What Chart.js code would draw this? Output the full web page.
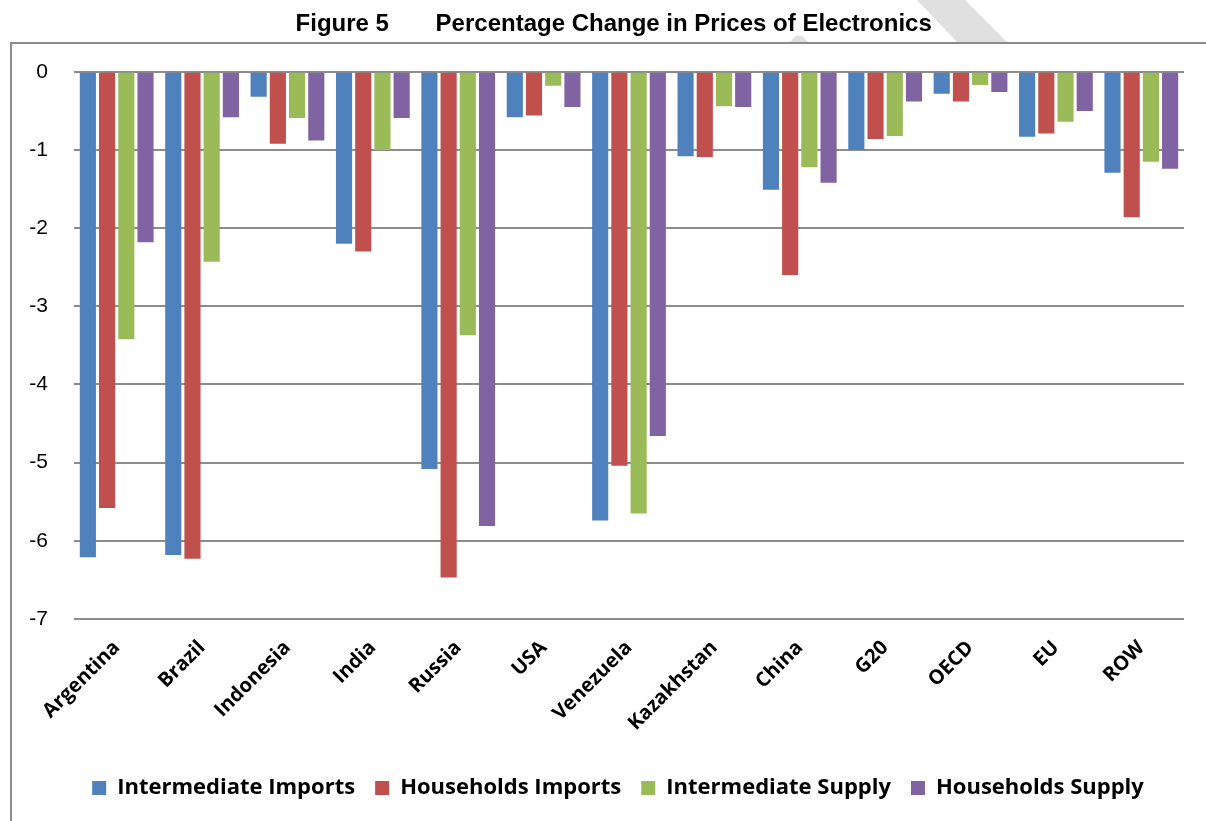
<!DOCTYPE html>
<html>
<head>
<meta charset="utf-8">
<script src="https://cdn.jsdelivr.net/npm/chart.js@4"></script>
<style>
  html, body { margin: 0; padding: 0; background: #fff; }
  #wrap { width: 1206px; height: 821px; position: relative; }
</style>
</head>
<body>
<div id="wrap"><canvas id="myChart" width="1206" height="821"></canvas></div>
<script>
var countries = ["Argentina", "Brazil", "Indonesia", "India", "Russia", "USA", "Venezuela",
                 "Kazakhstan", "China", "G20", "OECD", "EU", "ROW"];
var intermediateImports = [-6.21, -6.18, -0.32, -2.20, -5.08, -0.58, -5.74, -1.08, -1.51, -1.00, -0.28, -0.83, -1.29];
var householdsImports   = [-5.58, -6.23, -0.92, -2.30, -6.47, -0.56, -5.04, -1.09, -2.60, -0.86, -0.38, -0.79, -1.86];
var intermediateSupply  = [-3.42, -2.43, -0.59, -1.00, -3.37, -0.18, -5.65, -0.44, -1.22, -0.82, -0.17, -0.64, -1.15];
var householdsSupply    = [-2.18, -0.58, -0.88, -0.59, -5.81, -0.45, -4.66, -0.45, -1.42, -0.38, -0.26, -0.50, -1.24];
var seriesNames = ["Intermediate Imports", "Households Imports", "Intermediate Supply", "Households Supply"];
var barColors = ["#4F81BD", "#C0504D", "#9BBB59", "#8064A2"];

// frame and faint watermark stripe behind the chart
var frame = {
  id: "frame",
  afterLayout: function(chart) {
    // nudge legend a bit left, like the original
    chart.legend.left -= 11;
    chart.legend.right -= 11;
  },
  beforeDraw: function(chart) {
    var c = chart.ctx;
    c.save();
    c.fillStyle = "#e0e0e0";
    c.beginPath();
    c.moveTo(917, 0); c.lineTo(965, 0); c.lineTo(1007, 42); c.lineTo(957, 42);
    c.closePath(); c.fill();
    c.beginPath();
    c.moveTo(796, 36); c.lineTo(802, 36); c.lineTo(808, 42); c.lineTo(790, 42);
    c.closePath(); c.fill();
    c.strokeStyle = "#8c8c8c";
    c.lineWidth = 2;
    c.beginPath();
    c.moveTo(1206, 43); c.lineTo(11, 43); c.lineTo(11, 821);
    c.stroke();
    c.restore();
  }
};

var datasets = [intermediateImports, householdsImports, intermediateSupply, householdsSupply].map(function(d, i) {
  return {
    label: seriesNames[i],
    data: d,
    backgroundColor: barColors[i],
    categoryPercentage: 0.9,
    barPercentage: 0.84
  };
});

new Chart("myChart", {
  type: "bar",
  data: { labels: countries, datasets: datasets },
  plugins: [frame],
  options: {
    responsive: false,
    animation: false,
    layout: { padding: { left: 10, right: 22, top: 0, bottom: 12 } },
    plugins: {
      title: {
        display: true,
        text: "     Figure 5       Percentage Change in Prices of Electronics",
        color: "#000",
        font: { family: "Liberation Sans, Arial", size: 24, weight: "bold" },
        padding: { top: 10, bottom: 33 }
      },
      legend: {
        position: "bottom",
        fullSize: false,
        labels: {
          color: "#000",
          font: { family: "Open Sans", size: 22, weight: "bold" },
          boxWidth: 14,
          boxHeight: 14,
          padding: 20
        }
      },
      tooltip: { enabled: false }
    },
    scales: {
      x: {
        grid: { display: false },
        border: { display: false },
        ticks: {
          color: "#000",
          font: { family: "Open Sans", size: 20, weight: "bold" },
          maxRotation: 45,
          minRotation: 45,
          padding: 9
        },
        afterFit: function(scale) { scale.height = 138; }
      },
      y: {
        min: -7,
        max: 0,
        grid: { color: "#8c8c8c", lineWidth: 2, drawTicks: false },
        border: { display: false },
        ticks: {
          stepSize: 1,
          color: "#000",
          font: { family: "Liberation Sans, Arial", size: 21 },
          padding: 26
        },
        afterFit: function(scale) { scale.width = 64; }
      }
    }
  }
});
</script>
</body>
</html>
